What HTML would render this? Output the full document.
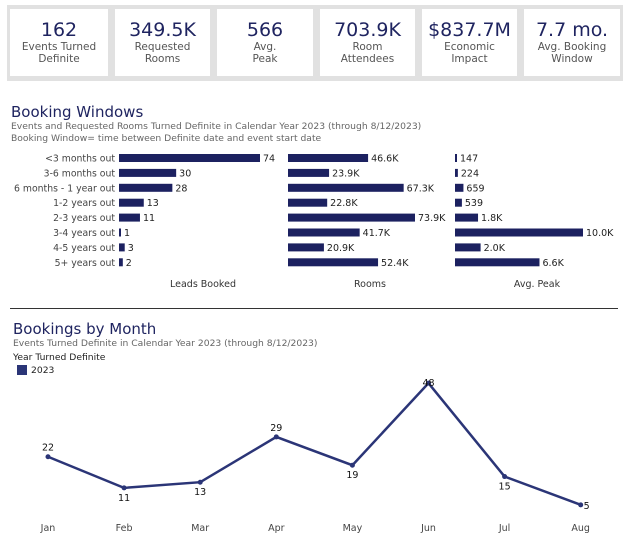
<!DOCTYPE html>
<html><head><meta charset="utf-8"><style>
body{margin:0;width:626px;height:544px;background:#fff;font-family:"DejaVu Sans","Liberation Sans",sans-serif;position:relative;overflow:hidden}
.kpis{position:absolute;left:7px;top:5px;width:616px;height:76px;background:#e1e1e1}
.kpi{position:absolute;top:4px;height:67px;background:#fff;text-align:center;color:#444}
.kpi .v{font-size:19px;color:#1f2460;margin-top:10px;line-height:22px}
.kpi .l{font-size:10.5px;line-height:12px;color:#555}
.t{position:absolute;color:#1f2460;font-size:15px}
.s{position:absolute;color:#666;font-size:9.2px;line-height:12px}
svg{position:absolute;left:0;top:0}
</style></head><body>
<div class="kpis">
<div class="kpi" style="left:3px;width:98px"><div class="v">162</div><div class="l">Events Turned<br>Definite</div></div>
<div class="kpi" style="left:108px;width:95px"><div class="v">349.5K</div><div class="l">Requested<br>Rooms</div></div>
<div class="kpi" style="left:210px;width:96px"><div class="v">566</div><div class="l">Avg.<br>Peak</div></div>
<div class="kpi" style="left:313px;width:95px"><div class="v">703.9K</div><div class="l">Room<br>Attendees</div></div>
<div class="kpi" style="left:415px;width:95px"><div class="v">$837.7M</div><div class="l">Economic<br>Impact</div></div>
<div class="kpi" style="left:517px;width:96px"><div class="v">7.7 mo.</div><div class="l">Avg. Booking<br>Window</div></div>
</div>
<div class="t" style="left:11px;top:103px">Booking Windows</div>
<div class="s" style="left:11px;top:121px">Events and Requested Rooms Turned Definite in Calendar Year 2023 (through 8/12/2023)<br>Booking Window= time between Definite date and event start date</div>
<div style="position:absolute;left:10px;top:308px;width:608px;height:1px;background:#333"></div>
<div class="t" style="left:13px;top:320px">Bookings by Month</div>
<div class="s" style="left:13px;top:338px">Events Turned Definite in Calendar Year 2023 (through 8/12/2023)</div>
<div class="s" style="left:13px;top:352px;color:#222">Year Turned Definite</div>
<div style="position:absolute;left:17px;top:365px;width:10px;height:10px;background:#2b3577"></div>
<div class="s" style="left:31px;top:365px;color:#222">2023</div>
<svg id="c" width="626" height="544"></svg>
<script>
const categories=["<3 months out","3-6 months out","6 months - 1 year out","1-2 years out","2-3 years out","3-4 years out","4-5 years out","5+ years out"];
const leads=[74,30,28,13,11,1,3,2];
const rooms=[46600,23900,67300,22800,73900,41700,20900,52400];
const roomLabels=["46.6K","23.9K","67.3K","22.8K","73.9K","41.7K","20.9K","52.4K"];
const peak=[147,224,659,539,1800,10000,2000,6600];
const peakLabels=["147","224","659","539","1.8K","10.0K","2.0K","6.6K"];
const months=["Jan","Feb","Mar","Apr","May","Jun","Jul","Aug"];
const monthly=[22,11,13,29,19,48,15,5];
const NS="http://www.w3.org/2000/svg";
const svg=document.getElementById('c');
function mk(tag,attrs,txt){const e=document.createElementNS(NS,tag);for(const k in attrs)e.setAttribute(k,attrs[k]);if(txt!==undefined)e.textContent=txt;svg.appendChild(e);return e;}
const rowY=i=>158+i*14.9;
function panel(x0,maxPx,maxV,vals,labels,title,titleX,name){
  vals.forEach((v,i)=>{
    const w=Math.max(2,v/maxV*maxPx);
    const r=mk('rect',{x:x0,y:rowY(i)-4,width:w,height:8,fill:'#1c2160'});
    
    
    const t=mk('text',{x:x0+w+3,y:rowY(i)+3.5,'font-size':9.5,fill:'#222'},labels[i]);
    
    
  });
  const tt=mk('text',{x:titleX,y:287,'font-size':9.5,fill:'#333','text-anchor':'middle'},title);
  
  
}
categories.forEach((c,i)=>{
  const t=mk('text',{x:115,y:rowY(i)+3.5,'font-size':9.3,fill:'#444','text-anchor':'end'},c);
  
  
});
panel(119,141,74,leads,leads.map(String),'Leads Booked',203,'leads');
panel(288,127,73900,rooms,roomLabels,'Rooms',370,'rooms');
panel(455,128,10000,peak,peakLabels,'Avg. Peak',537,'peak');
const xS=i=>48+i*76.1;
const yS=v=>519-2.83*v;
const pts=monthly.map((v,i)=>xS(i)+','+yS(v)).join(' ');
const pl=mk('polyline',{points:pts,fill:'none',stroke:'#2b3577','stroke-width':2.5});


const above=[true,false,false,true,false,true,false,false];
monthly.forEach((v,i)=>{
  const c=mk('circle',{cx:xS(i),cy:yS(v),r:2.5,fill:'#2b3577'});
  
  
  const lx=i===7?xS(i)+6:xS(i);
  const ly=i===7?yS(v)+4:(i===5?yS(v)+3:(above[i]?yS(v)-6:yS(v)+13));
  const t=mk('text',{x:lx,y:ly,'font-size':9.5,fill:'#111','text-anchor':'middle'},String(v));
  
  
  const m=mk('text',{x:xS(i),y:531,'font-size':9.5,fill:'#444','text-anchor':'middle'},months[i]);
  
  
});
</script>
</body></html>
